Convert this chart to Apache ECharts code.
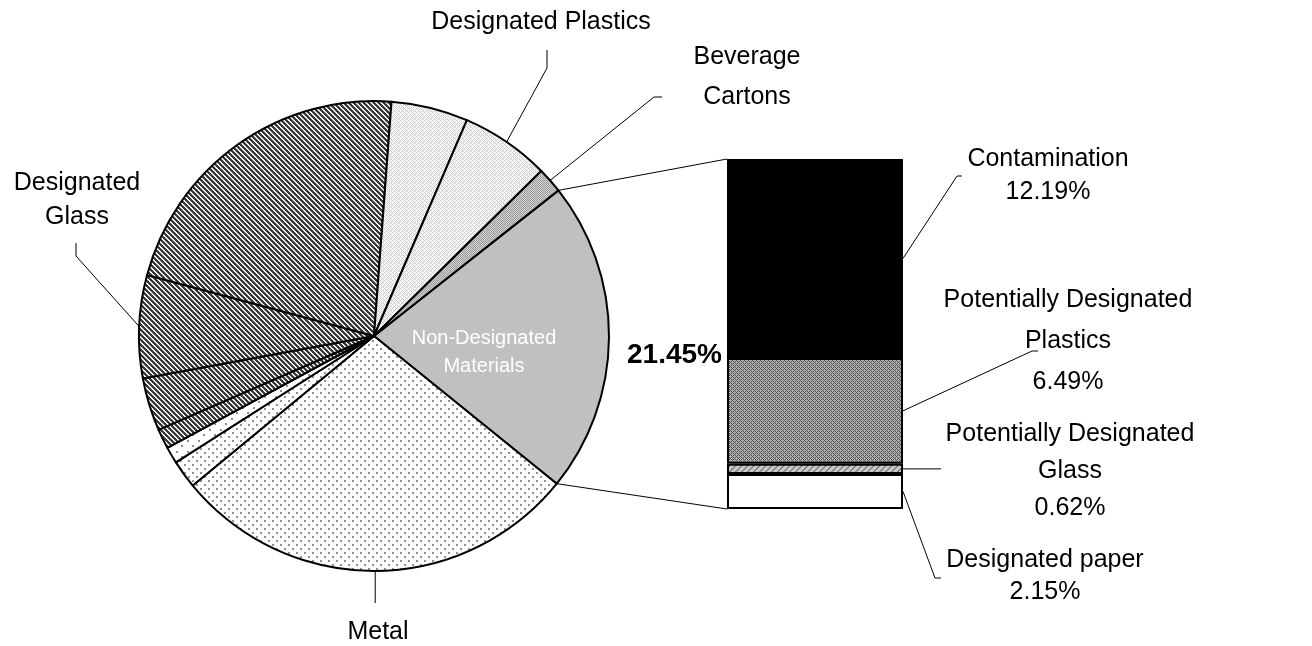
<!DOCTYPE html>
<html>
<head>
<meta charset="utf-8">
<script src="https://cdn.jsdelivr.net/npm/echarts@6/dist/echarts.min.js"></script>
<style>
html, body { margin: 0; padding: 0; background: #fff; }
#chart { width: 1312px; height: 646px; }
</style>
</head>
<body>
<div id="chart"></div>
<script>
// pie slices, clockwise from the split-out slice
var pieNames = ['Non-Designated Materials', 'Metal', 'Metal (other)', 'Metal (minor)',
    'Designated Glass (minor)', 'Designated Glass (other)', 'Designated Glass', 'Designated Glass (main)',
    'Designated Plastics (other)', 'Designated Plastics', 'Beverage Cartons'];
var pieValues = [21.45, 28.2, 1.94, 1.14, 1.36, 3.64, 7.08, 22.0, 5.28, 6.14, 1.75];
var pieLabels = ['Non-Designated\nMaterials', 'Metal', '', '', '', '', 'Designated\nGlass', '', '', 'Designated Plastics', 'Beverage\nCartons'];

// breakdown of Non-Designated Materials, bottom to top
var barNames = ['Designated paper', 'Potentially Designated Glass', 'Potentially Designated Plastics', 'Contamination'];
var barLabels = ['Designated paper', 'Potentially Designated\nGlass', 'Potentially Designated\nPlastics', 'Contamination'];
var barValues = [2.15, 0.62, 6.49, 12.19];

function sum(a) { return a.reduce(function (s, v) { return s + v; }, 0); }
var pieTotal = sum(pieValues);
var barTotal = Math.round(sum(barValues) * 100) / 100;

// font: narrow sans if present
function hasFont(f) {
    var g = document.createElement('canvas').getContext('2d');
    g.font = '40px monospace';
    var a = g.measureText('Designated Plastics').width;
    g.font = '40px "' + f + '", monospace';
    return g.measureText('Designated Plastics').width !== a;
}
var narrow = hasFont('Liberation Sans Narrow');
var FONT = narrow ? '"Liberation Sans Narrow", "Arial Narrow", sans-serif' : '"Liberation Sans", Arial, sans-serif';
var k = narrow ? 1 : 0.86;
var FS = Math.round(29 * k);

// layout
var cx = 374, cy = 336, R = 235, startAngle = 38.3;
var pieLabelPos = { 0: [484, 352, 28], 1: [378, 632, 30], 6: [77, 200, 34], 9: [541, 22, 30], 10: [747, 77, 40] };
var pieLeader = { 1: [[null, 603]], 6: [[76, 256], [76, 243]], 9: [[547, 68], [547, 50]], 10: [[654, 97], [662, 97]] };
var barLabelPos = [[1045, 576, 32], [1070, 471, 37], [1068, 341, 41], [1048, 176, 33]];
var barLeader = [[[935, 578], [941, 578]], [[941, null]], [[1032, 351], [1038, 351]], [[957, 176], [962, 176]]];

// fill patterns
function tile(w, h, bg, fn) {
    var c = document.createElement('canvas');
    c.width = w; c.height = h;
    var g = c.getContext('2d');
    g.fillStyle = bg; g.fillRect(0, 0, w, h);
    for (var y = 0; y < h; y++) {
        for (var x = 0; x < w; x++) {
            var col = fn(x, y);
            if (col) { g.fillStyle = col; g.fillRect(x, y, 1, 1); }
        }
    }
    return { image: c, repeat: 'repeat' };
}
var stripes = tile(5, 5, '#eeeeee', function (x, y) { return ((x - y + 50) % 5) < 3 ? '#3a3a3a' : null; });
var lightCross = tile(4, 4, '#f8f8f8', function (x, y) { return ((x + y) % 4 === 0 || (x - y + 8) % 4 === 0) ? '#cccccc' : null; });
var greyDots = tile(2, 2, '#d2d2d2', function (x, y) { return (x + y) % 2 === 0 ? '#9c9c9c' : null; });
var dots = tile(8, 8, '#ffffff', function (x, y) {
    return ((x < 2 && y < 2) || (x >= 4 && x < 6 && y >= 4 && y < 6)) ? '#909090' : null;
});
var sparseDots = tile(11, 11, '#ffffff', function (x, y) {
    return ((x < 2 && y < 2) || (x >= 5 && x < 7 && y >= 5 && y < 7)) ? '#909090' : null;
});
var darkCross = tile(4, 4, '#b0b0b0', function (x, y) { return ((x + y) % 4 === 0 || (x - y + 8) % 4 === 0) ? '#505050' : null; });
var greyHatch = tile(6, 6, '#c8c8c8', function (x, y) { return ((x + y) % 6) < 2 ? '#858585' : null; });

var sliceFill = ['#c0c0c0', dots, dots, sparseDots, stripes, stripes, stripes, stripes, lightCross, lightCross, greyDots];
var barFill = ['#ffffff', greyHatch, darkCross, '#000000'];

var myChart = echarts.init(document.getElementById('chart'));

var series = [{
    type: 'pie',
    center: [cx, cy],
    radius: R,
    startAngle: startAngle,
    clockwise: true,
    avoidLabelOverlap: false,
    animation: false,
    label: {
        show: true,
        color: '#000',
        fontFamily: FONT,
        fontSize: FS,
        formatter: function (p) { return pieLabels[p.dataIndex]; }
    },
    labelLine: { show: false },
    labelLayout: function (p) {
        var pos = pieLabelPos[p.dataIndex];
        if (!pos) return {};
        return { x: pos[0], y: pos[1], align: 'center', verticalAlign: 'middle' };
    },
    itemStyle: { borderColor: '#000', borderWidth: 2 },
    emphasis: { scale: false },
    data: pieValues.map(function (v, i) {
        var lab = pieLabels[i] ? { lineHeight: pieLabelPos[i][2] } : { show: false };
        if (i === 0) { lab.color = '#fff'; lab.fontSize = Math.round(23 * k); }
        return { name: pieNames[i], value: v, itemStyle: { color: sliceFill[i] }, label: lab };
    })
}];

barValues.forEach(function (v, i) {
    series.push({
        type: 'bar',
        name: barNames[i],
        stack: 'nd',
        barWidth: '100%',
        animation: false,
        data: [v],
        itemStyle: { color: barFill[i], borderColor: '#000', borderWidth: 2 },
        label: {
            show: true,
            position: 'right',
            color: '#000',
            fontFamily: FONT,
            fontSize: FS,
            lineHeight: barLabelPos[i][2],
            formatter: barLabels[i] + '\n' + v.toFixed(2) + '%'
        },
        labelLayout: { x: barLabelPos[i][0], y: barLabelPos[i][1], align: 'center', verticalAlign: 'middle' }
    });
});

option = {
    backgroundColor: '#fff',
    tooltip: { show: false },
    grid: { left: 727, top: 159, width: 176, height: 350 },
    xAxis: { type: 'category', data: ['Non-Designated Materials'], show: false },
    yAxis: { type: 'value', min: 0, max: barTotal, show: false },
    series: series
};
myChart.setOption(option);

// leader lines, split lines and the total
function piePoint(deg) {
    var a = deg * Math.PI / 180;
    return [cx + R * Math.cos(a), cy - R * Math.sin(a)];
}
var graphics = [];
function polyline(pts) {
    graphics.push({ type: 'polyline', silent: true, shape: { points: pts }, style: { stroke: '#000', lineWidth: 1, fill: null } });
}
var acc = 0;
pieValues.forEach(function (v, i) {
    var sweep = 360 * v / pieTotal;
    var mid = startAngle - acc - sweep / 2;
    acc += sweep;
    if (!pieLeader[i]) return;
    var p0 = piePoint(mid);
    var pts = [p0].concat(pieLeader[i].map(function (q) { return [q[0] == null ? p0[0] : q[0], q[1] == null ? p0[1] : q[1]]; }));
    polyline(pts);
});

var ndSweep = 360 * pieValues[0] / pieTotal;
var barTopY = myChart.convertToPixel({ gridIndex: 0 }, [0, barTotal])[1];
var barBotY = myChart.convertToPixel({ gridIndex: 0 }, [0, 0])[1];
var barCx = myChart.convertToPixel({ gridIndex: 0 }, [0, 0])[0];
var barLeftX = barCx - 88, barRightX = barCx + 88;
polyline([piePoint(startAngle), [barLeftX, barTopY]]);
polyline([piePoint(startAngle - ndSweep), [barLeftX, barBotY]]);

var cum = 0;
barValues.forEach(function (v, i) {
    var y = myChart.convertToPixel({ gridIndex: 0 }, [0, cum + v / 2])[1];
    cum += v;
    var p0 = [barRightX, y];
    polyline([p0].concat(barLeader[i].map(function (q) { return [q[0] == null ? p0[0] : q[0], q[1] == null ? p0[1] : q[1]]; })));
});

graphics.push({
    type: 'text', silent: true,
    style: {
        text: barTotal.toFixed(2) + '%', x: barLeftX - 5, y: 355,
        fill: '#000', font: 'bold ' + Math.round(33 * k) + 'px ' + FONT,
        align: 'right', verticalAlign: 'middle', textAlign: 'right', textVerticalAlign: 'middle'
    }
});
myChart.setOption({ graphic: graphics });
</script>
</body>
</html>
